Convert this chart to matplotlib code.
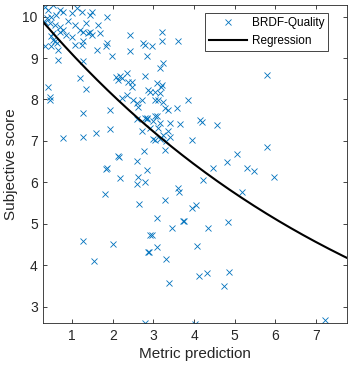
import numpy as np
import matplotlib
matplotlib.use('Agg')
import matplotlib.pyplot as plt

plt.rcParams['font.family'] = ['Liberation Sans', 'DejaVu Sans']

# metric prediction vs subjective score
metric = [0.53, 0.33, 0.41, 0.70, 0.78, 0.99, 1.11, 1.23, 1.44, 1.48,
          0.37, 0.49, 0.33, 0.45, 0.70, 0.78, 0.70, 0.57, 1.85, 1.07,
          1.35, 1.64, 1.19, 1.39, 1.44, 1.68, 1.27, 0.53, 0.49, 0.53,
          0.62, 0.57, 0.33, 0.49, 1.07, 1.23, 1.27, 1.48, 0.66, 0.66,
          1.27, 1.85, 1.83, 1.60, 2.42, 1.97, 2.42, 2.75, 2.79, 2.83,
          2.17, 2.13, 2.22, 2.09, 2.34, 2.46, 2.38, 2.46, 2.22, 2.34,
          2.50, 2.59, 2.63, 2.79, 2.87, 0.41, 0.45, 0.45, 1.19, 1.35,
          1.93, 1.27, 0.90, 0.60, 1.00, 0.85,
          3.20, 3.20, 3.61, 2.96, 3.24, 3.16, 3.08, 3.20, 3.18, 2.91,
          3.04, 3.16, 3.04, 3.12, 2.71, 3.24, 3.28, 3.36, 3.57, 3.86,
          4.15, 2.83, 3.08,
          0.78, 1.27, 1.58, 1.93, 2.59, 2.83, 2.71, 2.77, 2.13, 2.15,
          2.59, 1.85, 1.83, 2.17, 2.63, 2.83, 2.59, 2.79, 1.81, 2.64,
          2.79, 3.04, 2.99, 3.16, 3.41, 3.65, 4.19, 4.57, 2.91, 3.12,
          3.36, 3.24, 2.99, 3.04, 3.16, 3.41, 3.31, 3.94, 3.28, 5.05,
          4.82, 4.47, 5.30, 4.23, 3.61, 3.64, 3.28, 5.17, 4.05, 3.94,
          3.08, 3.73, 3.75, 4.35, 4.84, 3.45,
          1.27, 2.01, 1.54, 2.91, 2.87, 2.79,
          2.97, 3.09, 2.90, 4.06, 3.32, 4.13, 4.31, 4.87, 4.74, 3.39,
          4.02, 5.48, 5.80, 5.97, 7.22, 5.80]
score = [10.28, 10.24, 10.16, 10.16, 10.12, 10.08, 10.20, 10.12, 10.04, 10.10,
         9.96, 10.00, 9.88, 9.84, 9.76, 9.68, 9.64, 9.80, 10.00, 9.80,
         9.84, 9.80, 9.68, 9.60, 9.64, 9.60, 9.64, 9.60, 9.52, 9.44,
         9.36, 9.40, 9.28, 9.28, 9.32, 9.32, 9.40, 9.56, 9.20, 8.96,
         8.92, 9.36, 9.28, 9.20, 9.16, 9.04, 9.56, 9.36, 9.32, 9.04,
         8.56, 8.48, 8.52, 8.54, 8.64, 8.43, 8.43, 8.31, 8.03, 8.11,
         7.99, 7.91, 7.83, 8.56, 8.23, 8.31, 8.07, 7.99, 8.52, 8.25,
         7.75, 7.67, 9.90, 10.05, 9.50, 9.56,
         9.64, 9.40, 9.40, 9.28, 8.88, 8.76, 8.40, 8.35, 8.30, 8.19,
         8.19, 8.15, 7.99, 7.99, 7.99, 7.95, 7.79, 7.75, 7.79, 7.99,
         7.51, 7.55, 7.59,
         7.07, 7.09, 7.19, 7.29, 7.53, 7.53, 7.23, 6.75, 6.64, 6.62,
         6.51, 6.35, 6.33, 6.11, 6.14, 6.31, 5.97, 6.00, 5.73, 5.49,
         7.55, 7.59, 7.47, 7.43, 7.43, 7.41, 7.45, 7.39, 7.31, 7.31,
         7.23, 7.15, 7.05, 7.03, 7.05, 7.09, 6.99, 7.03, 6.77, 6.68,
         6.48, 6.35, 6.35, 6.06, 5.87, 5.78, 5.58, 5.78, 5.46, 5.38,
         5.14, 5.06, 5.08, 4.90, 5.05, 4.89,
         4.58, 4.52, 4.10, 4.74, 4.32, 2.61,
         4.74, 4.44, 4.32, 4.46, 4.15, 3.73, 3.82, 3.84, 3.51, 3.58,
         2.59, 6.28, 6.85, 6.13, 2.69, 8.58]

# exponential regression y = a * exp(b * x)
reg_a = 10.2
reg_b = -0.115

xmin, xmax = 0.29, 7.77
ymin, ymax = 2.6, 10.28

fig = plt.figure(figsize=(3.51, 3.70), dpi=100)
ax = fig.add_axes([0.1234, 0.1262, 0.8661, 0.8603])

ax.plot(metric, score, 'x', color='#0072BD', markersize=4.6, markeredgewidth=0.6,
        label='BRDF-Quality')
xr = np.linspace(xmin, xmax, 200)
ax.plot(xr, reg_a * np.exp(reg_b * xr), color='black', linewidth=1.5, label='Regression')

ax.set_xlim(xmin, xmax)
ax.set_ylim(ymin, ymax)
ax.set_xticks(range(1, 8))
ax.set_yticks(range(3, 11))
ax.tick_params(direction='in', length=3, width=0.6, top=True, right=True,
               labelsize=10, colors='#262626', pad=4)
for s in ax.spines.values():
    s.set_linewidth(0.6)
    s.set_color('#262626')
ax.set_xlabel('Metric prediction', fontsize=11, color='#262626', labelpad=3)
ax.set_ylabel('Subjective score', fontsize=11, color='#262626', labelpad=3)

leg = ax.legend(loc='upper right', bbox_to_anchor=(0.9353, 0.9657),
                bbox_transform=fig.transFigure, borderaxespad=0, fontsize=8.5,
                fancybox=False, framealpha=1, edgecolor='#262626',
                handlelength=3.2, handletextpad=0.4, borderpad=0.35, labelspacing=0.5)
leg.get_frame().set_linewidth(0.6)

fig.savefig('out.png', dpi=100)
